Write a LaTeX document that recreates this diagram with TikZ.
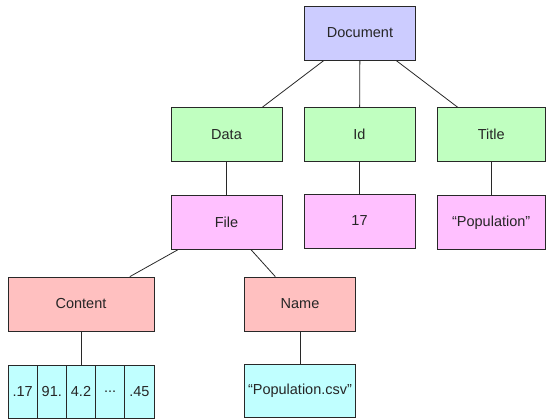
\documentclass[tikz,border=0pt]{standalone}
\usepackage{fontspec}
\setmainfont{Liberation Sans}
\definecolor{cdoc}{RGB}{204,204,255}
\definecolor{cgreen}{RGB}{192,255,192}
\definecolor{cpink}{RGB}{255,192,255}
\definecolor{csalmon}{RGB}{255,192,192}
\definecolor{ccyan}{RGB}{192,255,255}
\definecolor{cline}{RGB}{40,40,40}
\tikzset{
  box/.style={draw=cline, line width=0.8pt, minimum width=111pt, minimum height=54pt, inner sep=0pt, font=\fontsize{14.5}{17}\selectfont, text=black!85},
  cell/.style={box, minimum width=29.2pt, fill=ccyan},
  conn/.style={draw=cline, line width=0.8pt},
}
\begin{document}
\begin{tikzpicture}[x=1pt,y=-1pt]
\useasboundingbox (0,0) rectangle (546,419);
\node[box, fill=cdoc] (doc) at (360,33) {Document};
\node[box, fill=cgreen] (data) at (226.5,134.5) {Data};
\node[box, fill=cgreen] (id) at (359.5,134.5) {Id};
\node[box, fill=cgreen, minimum width=108.5pt] (title) at (491.2,134.5) {Title};
\coordinate (titletop) at (458,107.5);
\node[box, fill=cpink] (file) at (226.5,222.5) {File};
\node[box, fill=cpink] (seventeen) at (359.5,221) {17};
\node[box, fill=cpink, minimum width=108.5pt] (pop) at (491.2,222.5) {“Population”};
\node[box, fill=csalmon, minimum width=146pt] (content) at (81,304) {Content};
\node[box, fill=csalmon] (name) at (300,304) {Name};
\node[cell, minimum height=53pt] (c1) at (22.6,391.5) {.17};
\node[cell, minimum height=53pt] (c2) at (51.8,391.5) {91.};
\node[cell, minimum height=53pt] (c3) at (81,391.5) {4.2};
\node[cell, minimum height=53pt] (c4) at (110.2,391.5) {...};
\node[cell, minimum height=53pt] (c5) at (139.4,391.5) {.45};
\node[box, fill=ccyan, minimum height=53pt] (csv) at (300,390.5) {“Population.csv”};
\draw[conn] (doc) -- (data);
\draw[conn] (doc) -- (id);
\draw[conn] (doc) -- (titletop);
\draw[conn] (data) -- (file);
\draw[conn] (id) -- (seventeen);
\draw[conn] (title) -- (pop);
\draw[conn] (file) -- (content);
\draw[conn] (file) -- (name);
\draw[conn] (content) -- (c3);
\draw[conn] (name) -- (csv);
\end{tikzpicture}
\end{document}
